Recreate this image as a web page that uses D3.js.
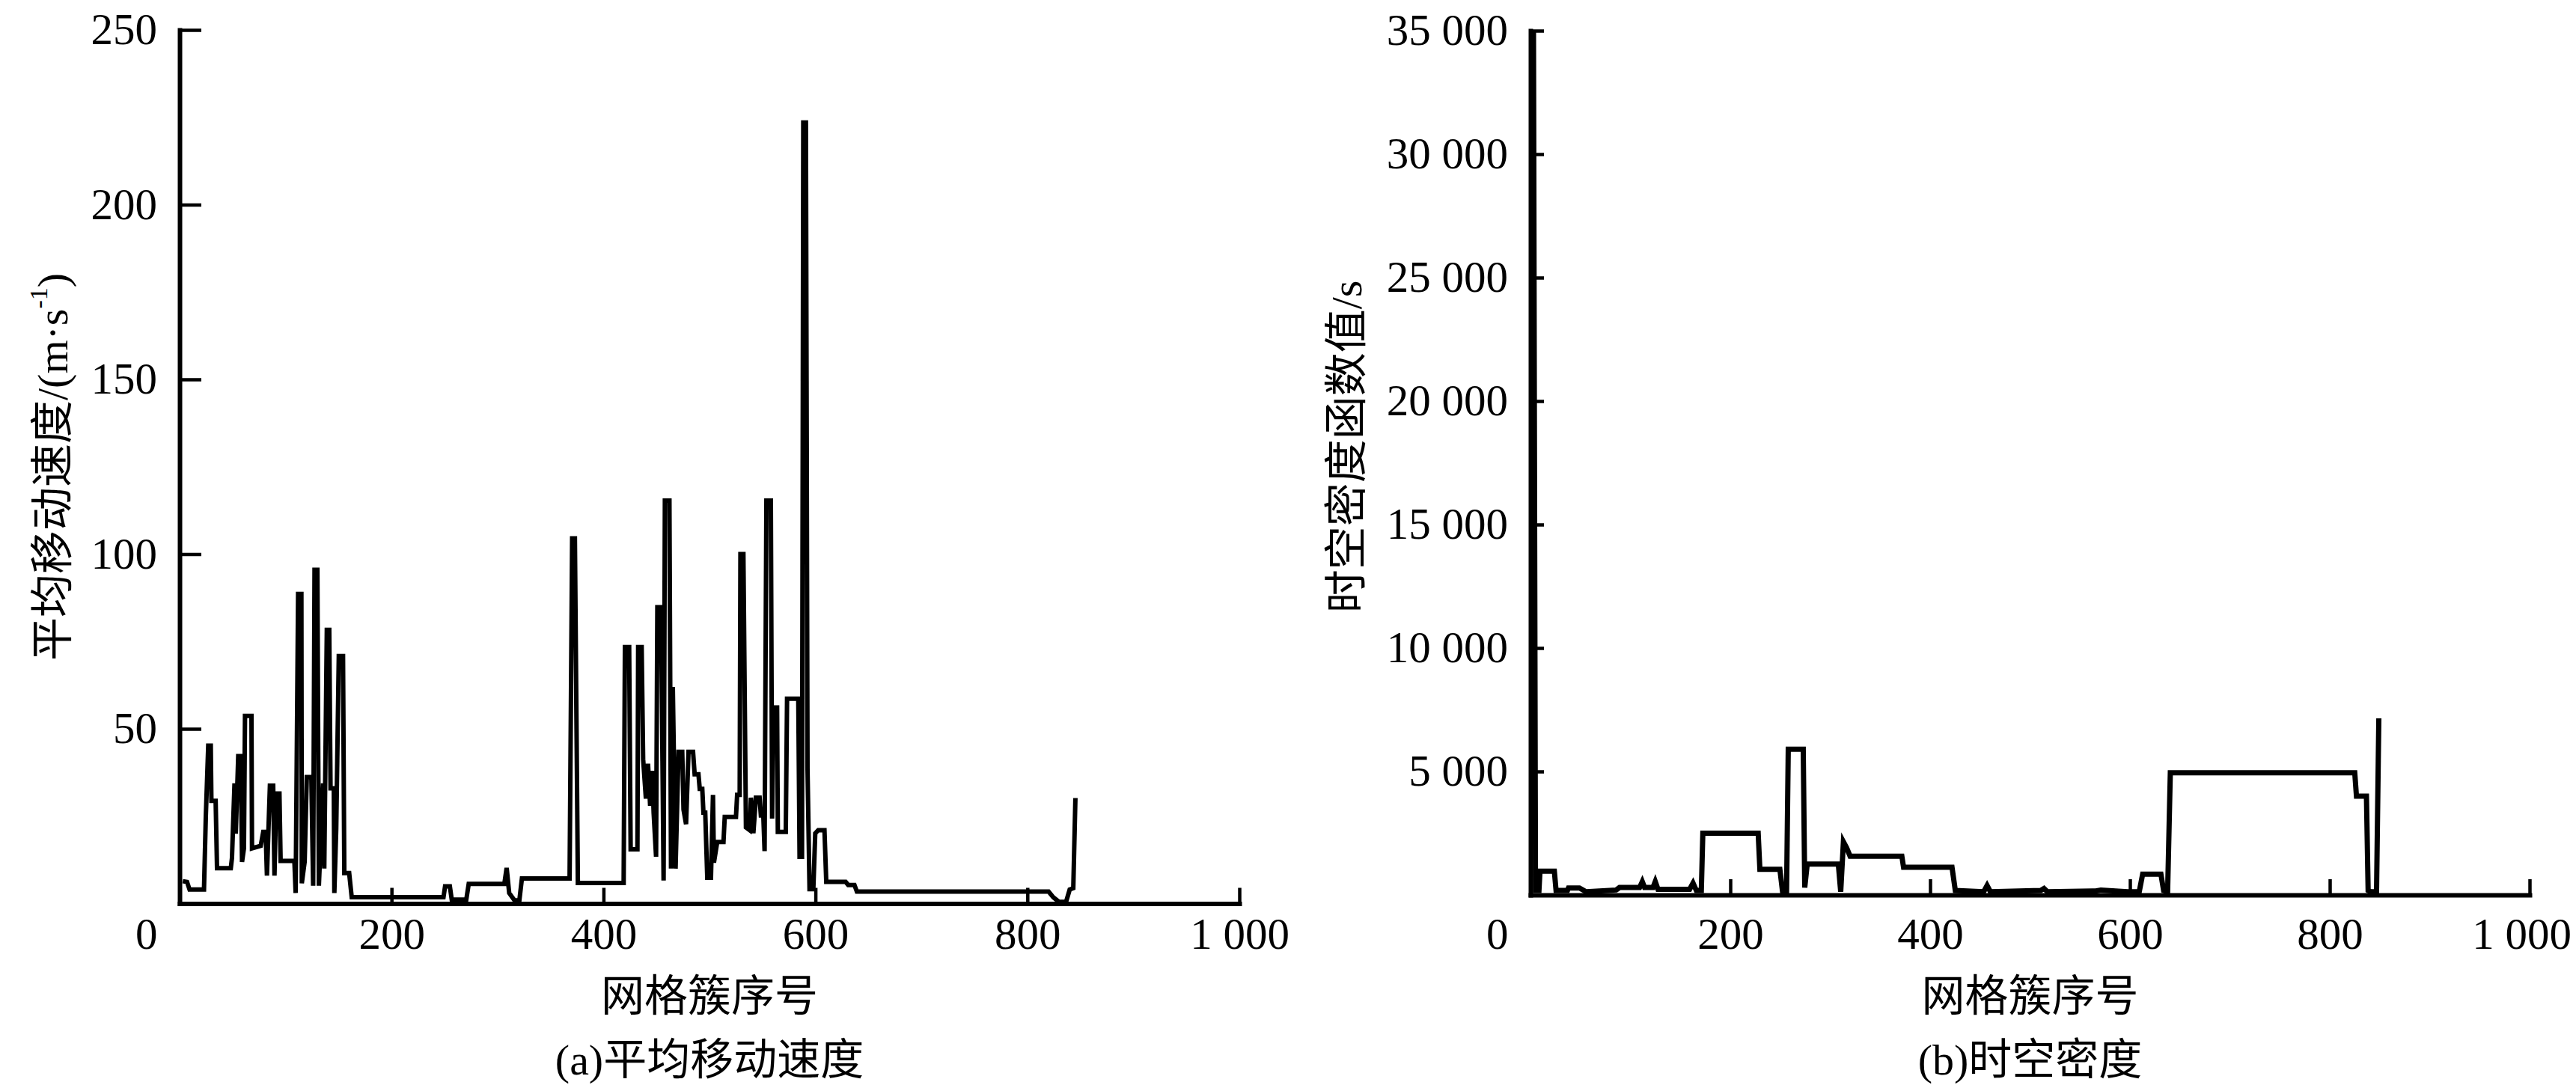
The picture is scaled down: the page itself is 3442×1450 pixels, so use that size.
<!DOCTYPE html>
<html>
<head>
<meta charset="utf-8">
<script src="https://cdn.jsdelivr.net/npm/d3@7"></script>
<style>
  body { margin: 0; background: #fff; }
  svg text { font-family: "Liberation Serif", "Times New Roman", "Noto Sans CJK SC", serif; fill: #000; }
</style>
</head>
<body>
<div id="chart"></div>
<script>
// (a) mean moving speed
const speedX = [3, 7, 9.4, 23, 24.7, 27, 29.4, 30, 34, 35.3, 48.3, 49.4, 51.8, 53, 55.3, 57.7, 58.9, 60.7, 61.7, 67.8,
  68.3, 76.5, 78.9, 81.2, 82.4, 85.2, 88.3, 89.5, 91.3, 94.2, 95.3, 108.3, 109.5, 111.8, 114.9, 115.3, 118, 120, 124.3, 126,
  127.3, 130, 131.4, 135.4, 136.5, 138.9, 141.2, 142.4, 145.5, 146, 147.8, 150.2, 154.2, 155.4, 160, 162.4, 249, 250.5, 255, 256.8,
  270.5, 272.8, 306.4, 308.6, 311, 316, 320.6, 323, 368, 370.4, 373, 375.8, 419, 420.2, 424.2, 425.6, 432, 432.7, 436, 437.4,
  440, 442, 444, 446, 447.3, 449.6, 450.8, 454.3, 456.7, 457.9, 462.2, 463.7, 465.4, 468, 470.8, 474.3, 475.5, 477.9, 480.2, 484.5,
  486, 489.6, 490.8, 493.2, 494.3, 496, 497.9, 501.4, 503.3, 504.2, 507.3, 513.2, 514.4, 525, 526.1, 528.5, 529.2, 532, 534.4, 537.9,
  539.1, 541.4, 543.8, 547.3, 548.5, 550.8, 552, 553.7, 557.9, 559.1, 560.3, 563.8, 564.5, 572, 573.2, 583.8, 585, 587.3, 588.5, 591,
  592.5, 594.4, 598, 599.8, 602.6, 608.5, 610.2, 628.5, 630.9, 636.8, 639.1, 820, 824.4, 829.7, 836.5, 839.9, 843.3, 845.3];
const speedY = [6.4, 6.2, 4, 4, 24.7, 45.2, 45.2, 29.4, 29.4, 10.1, 10.1, 13, 34.4, 20, 42.2, 42.2, 11.9, 15.8, 53.7, 53.7,
  15.8, 16.5, 20.5, 20.5, 8, 33.7, 33.7, 8, 31.5, 31.5, 12.2, 12.2, 3, 88.6, 88.6, 5.8, 12, 36.2, 36.2, 5.1,
  95.5, 95.5, 5.1, 34.4, 10, 78.3, 78.3, 33, 33, 3, 21.5, 70.8, 70.8, 8.7, 8.7, 1.8, 1.8, 4.9, 4.9, 1.1,
  1.1, 5.6, 5.6, 10.2, 3, 0.9, 0.9, 7.2, 7.2, 104.5, 104.5, 5.9, 5.9, 73.4, 73.4, 15.5, 15.5, 73.4, 73.4, 41.3,
  30, 40, 28, 38, 26, 13.4, 84.8, 84.8, 6.6, 115.3, 115.3, 10, 62, 10, 43.4, 43.4, 26.9, 22.7, 43.4, 43.4,
  37, 37, 32.8, 32.8, 26, 26, 7.4, 7.4, 31.1, 11.7, 17.6, 17.6, 24.8, 24.8, 31.1, 31.1, 100, 100, 21.8, 21,
  30.3, 20.1, 30.3, 30.3, 25.2, 25.2, 15, 115.3, 115.3, 24.3, 56.1, 56.1, 20.5, 20.5, 58.6, 58.6, 13.4, 13.4, 223.5, 223.5,
  38.7, 4.1, 4.1, 20.1, 21, 21, 6.2, 6.2, 5.3, 5.3, 3.4, 3.4, 1.8, 0.5, 0.5, 4, 4.4, 30.2];

// (b) spatio-temporal density
const densityX = [3, 5, 8.5, 9.5, 23.9, 25.6, 37, 38, 49, 55.7, 85.8, 89.1, 109.2, 111.9, 114.2, 122.6, 124.9, 127.6, 159.3, 162.7,
  166, 171, 172.5, 227.9, 229.6, 249.6, 252.3, 256.3, 258, 273, 274.5, 277, 308.1, 310.5, 313.2, 316.5, 319.9, 371.7, 373.4, 421.9,
  425.2, 453.6, 457, 460.3, 510.7, 514, 517.4, 565.8, 570.9, 597.6, 609.3, 612.7, 631, 633.7, 637.7, 640.4, 825, 826.7, 836.7, 838.4,
  841, 846.8, 849.1];
const densityY = [35000, 180, 180, 960, 960, 180, 180, 280, 280, 130, 200, 300, 300, 540, 300, 300, 540, 230, 230, 480,
  180, 180, 2500, 2500, 1040, 1040, 130, 130, 5900, 5900, 300, 1250, 1250, 130, 2150, 1900, 1570, 1570, 1120, 1120,
  180, 130, 380, 130, 180, 260, 130, 160, 200, 130, 130, 840, 840, 180, 130, 4950, 4950, 4000, 4000, 180,
  130, 130, 7150];

const xTicks = [0, 200, 400, 600, 800, 1000];
const speedTicks = [50, 100, 150, 200, 250];
const densityTicks = [5000, 10000, 15000, 20000, 25000, 30000, 35000];

const xTitle = '网格簇序号';

const locale = d3.formatLocale({decimal: '.', thousands: ' ', grouping: [3], currency: ['', '']});
const fmt = locale.format(',');

const W = 3442;
const svg = d3.select('#chart').append('svg')
  .attr('width', W)
  .attr('height', 1450);

function drawPanel(cfg) {
  const x = d3.scaleLinear().domain([0, 1000]).range([cfg.left, cfg.right]);
  const y = d3.scaleLinear().domain([0, cfg.yMax]).range([cfg.bottom, cfg.top]);
  const g = svg.append('g');

  // x axis, ticks pointing into the plot
  const gx = g.append('g')
    .attr('transform', 'translate(0,' + cfg.bottom + ')')
    .call(d3.axisBottom(x).tickValues(xTicks).tickSize(-21).tickSizeOuter(0).tickFormat(fmt))
    .attr('font-family', null)
    .attr('font-size', 59);
  gx.select('.domain').attr('stroke-width', 6).attr('stroke-linecap', 'square');
  gx.selectAll('.tick line').attr('stroke-width', 4.5);
  gx.selectAll('.tick text').attr('y', 1247 - cfg.bottom).attr('dy', '0.35em');
  // the shared origin label sits under the y labels
  gx.selectAll('.tick').filter(d => d === 0).select('text')
    .attr('text-anchor', 'end').attr('x', -30);
  // keep the last label inside the page
  gx.selectAll('.tick text').each(function() {
    const b = this.getBBox();
    const px = this.getCTM().e + b.x + b.width;
    if (px > W - 6) d3.select(this).attr('x', (W - 6) - px);
  });

  const gy = g.append('g')
    .attr('transform', 'translate(' + cfg.left + ',0)')
    .call(d3.axisLeft(y).tickValues(cfg.yTicks).tickSize(-cfg.yTickLen).tickSizeOuter(0).tickFormat(fmt))
    .attr('font-family', null)
    .attr('font-size', 59);
  gy.select('.domain').attr('stroke-width', 6).attr('stroke-linecap', 'square');
  gy.selectAll('.tick line').attr('stroke-width', 4.5);
  gy.selectAll('.tick text').attr('x', -30);

  const line = d3.line()
    .x(d => x(d[0]))
    .y(d => y(d[1]));

  g.append('path')
    .datum(d3.zip(cfg.xs, cfg.ys))
    .attr('d', line)
    .attr('fill', 'none')
    .attr('stroke', '#000')
    .attr('stroke-width', cfg.lineWidth)
    .attr('stroke-linejoin', 'miter');

  const cx = (cfg.left + cfg.right) / 2;
  g.append('text')
    .attr('x', cx)
    .attr('y', 1331)
    .attr('text-anchor', 'middle')
    .attr('dominant-baseline', 'central')
    .attr('font-size', 58)
    .text(xTitle);

  g.append('text')
    .attr('x', cx)
    .attr('y', 1416)
    .attr('text-anchor', 'middle')
    .attr('dominant-baseline', 'central')
    .attr('font-size', 58)
    .text(cfg.caption);

  const yt = g.append('text')
    .attr('transform', 'translate(' + cfg.yTitleX + ',' + cfg.yTitleY + ') rotate(-90)')
    .attr('text-anchor', 'middle')
    .attr('dominant-baseline', 'central')
    .attr('font-size', 58);
  cfg.yTitle.forEach(part => {
    const t = yt.append('tspan').text(part.text);
    if (part.sup) t.attr('font-size', 34).attr('baseline-shift', 'super');
  });
}

drawPanel({
  left: 240, right: 1656, top: 40, bottom: 1207.5,
  yMax: 250, yTicks: speedTicks, yTickLen: 29,
  xs: speedX, ys: speedY, lineWidth: 6,
  caption: '(a)平均移动速度',
  yTitleX: 70, yTitleY: 624,
  yTitle: [{text: '平均移动速度/(m·s'}, {text: '-1', sup: true}, {text: ')'}]
});

drawPanel({
  left: 2045, right: 3380, top: 41, bottom: 1196,
  yMax: 35000, yTicks: densityTicks, yTickLen: 18,
  xs: densityX, ys: densityY, lineWidth: 7,
  caption: '(b)时空密度',
  yTitleX: 1799, yTitleY: 597,
  yTitle: [{text: '时空密度函数值/s'}]
});
</script>
</body>
</html>
